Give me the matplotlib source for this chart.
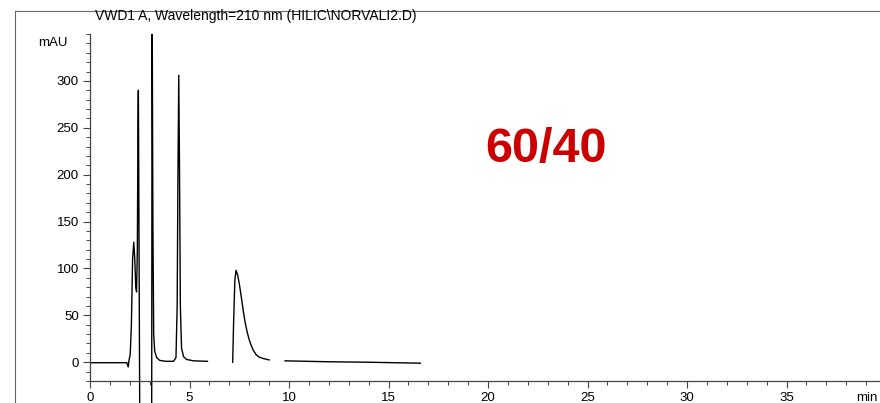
import numpy as np
import matplotlib
matplotlib.use("Agg")
import matplotlib.pyplot as plt
from matplotlib.patches import Rectangle
from matplotlib.lines import Line2D
from matplotlib.ticker import MultipleLocator

plt.rcParams['font.family'] = ['Liberation Sans', 'DejaVu Sans']

# retention time (min) and detector signal (mAU)
nan = np.nan
time = [0.0, 1.0, 1.85, 1.92, 1.96, 2.02, 2.08, 2.14, 2.20, 2.25, 2.30, 2.34,
        2.38, 2.41, 2.43, 2.46, 2.50, 2.52, 3.10, 3.12, 3.16, 3.20, 3.25, 3.35,
        3.50, 3.80, 4.20, 4.32, 4.38, 4.42, 4.46, 4.50, 4.54, 4.60, 4.70, 4.85,
        5.20, 5.90, 6.5, 7.17, 7.22, 7.28, 7.34, 7.42, 7.50, 7.60, 7.70, 7.80,
        7.90, 8.00, 8.10, 8.20, 8.35, 8.50, 8.70, 9.00, 9.4, 9.80, 12.0, 14.0,
        16.6]
signal = [-0.5, -0.5, -0.5, -5, 2, 8, 40, 110, 128, 110, 80, 75,
          120, 250, 290, 150, -60, -60, -60, 400, 150, 30, 12, 5,
          2, 1, 1, 5, 60, 200, 306, 200, 60, 15, 6, 3,
          1.5, 1, nan, 0, 45, 88, 98, 93, 84, 70, 55, 42,
          32, 24, 18, 13, 8, 5.5, 4, 2.5, nan, 1.5, 0.5, 0,
          -1]

title = "VWD1 A, Wavelength=210 nm (HILIC\\NORVALI2.D)"
label = "60/40"

W, H = 880, 403
fig = plt.figure(figsize=(W / 100, H / 100), dpi=100)
ax = fig.add_axes([90 / W, 1 - 381 / H, 790 / W, 347 / H])

line, = ax.plot(time, signal, color='black', lw=1.0)
# clip only at the top, the trace runs out below the axis in the scan
clip = Rectangle((0, -1), 1, 2, transform=ax.transAxes, fill=False)
line.set_clip_path(clip)

ax.set_xlim(0, 790 / 19.9)
ax.set_ylim(-20, 350)

for s in ['top', 'right']:
    ax.spines[s].set_visible(False)
for s in ['left', 'bottom']:
    ax.spines[s].set_color('#444444')
    ax.spines[s].set_linewidth(0.9)

ax.xaxis.set_major_locator(MultipleLocator(5))
ax.xaxis.set_minor_locator(MultipleLocator(1))
ax.yaxis.set_major_locator(MultipleLocator(50))
ax.yaxis.set_minor_locator(MultipleLocator(10))
ax.set_yticks(np.arange(0, 301, 50))
ax.tick_params(which='major', length=5, width=0.8, color='#444444', labelsize=9.5, pad=3)
ax.tick_params(which='minor', length=3, width=0.7, color='#444444')

fig.text(68 / W, 1 - 43 / H, "mAU", ha='right', va='center', fontsize=9.5)
fig.text(878 / W, 1 - 398 / H, "min", ha='right', va='center', fontsize=9.5)
fig.text(95 / W, 1 - 16 / H, title, ha='left', va='center', fontsize=10)
fig.text(485 / W, 1 - 149 / H, label, ha='left', va='center', fontsize=35,
         fontweight='bold', color='#cc0000')

# scan frame at the top left
fig.add_artist(Line2D([15 / W, 15 / W], [0, 1 - 11 / H], color='#666666', lw=0.8))
fig.add_artist(Line2D([15 / W, 1], [1 - 11 / H, 1 - 11 / H], color='#666666', lw=0.8))

fig.savefig("out.png", dpi=100)
